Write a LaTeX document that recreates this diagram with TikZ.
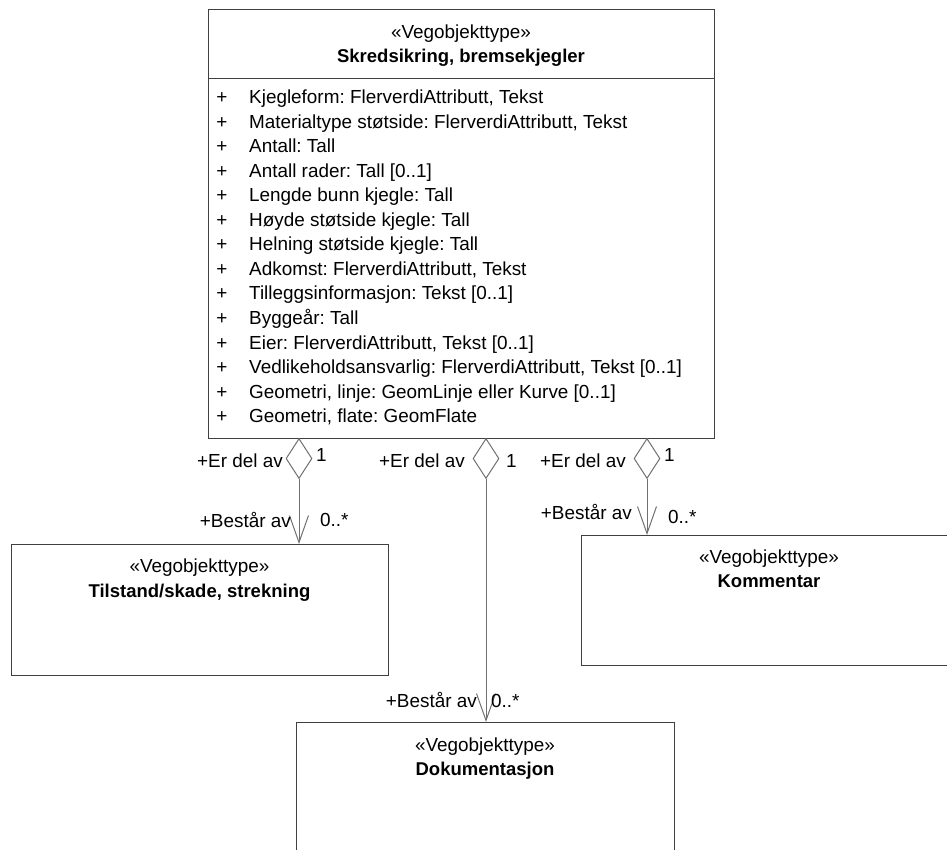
\documentclass[tikz,border=0pt]{standalone}
\usepackage{fontspec}
\setmainfont{Liberation Sans}
\usetikzlibrary{shapes.geometric,arrows.meta}
\definecolor{boxline}{HTML}{404040}
\definecolor{conline}{HTML}{707070}
\tikzset{
  classbox/.style={draw=boxline,line width=1pt,fill=white,rectangle,inner sep=0pt},
  txt/.style={inner sep=0pt,font=\fontsize{18.9}{22}\selectfont\frenchspacing,anchor=base},
  txtl/.style={txt,anchor=base west},
  txtb/.style={txt,font=\fontsize{18.5}{22}\selectfont\frenchspacing\bfseries},
  agg/.style={draw=conline,line width=1pt,fill=white,diamond,inner sep=0pt,minimum width=26pt,minimum height=40pt,shape aspect=0.65},
  conn/.style={draw=conline,line width=1pt,-{Straight Barb[length=27pt,width=19pt,line width=1pt]}},
}
\begin{document}
\begin{tikzpicture}[x=1pt,y=-1pt]
\useasboundingbox (0,0) rectangle (947,849);
% main class
\node[classbox,minimum width=506pt,minimum height=429pt,anchor=north west] (main) at (208,9) {};
\draw[boxline,line width=1pt] (main.west |- 0,78) coordinate (s1) -- (main.east |- 0,78) coordinate (s2);
\node[txt] (mst) at (461,38.5) {«Vegobjekttype»};
\node[txtb] (mnm) at (461,62.5) {Skredsikring, bremsekjegler};
\foreach \i/\t in {1/{Kjegleform: FlerverdiAttributt, Tekst},
  2/{Materialtype støtside: FlerverdiAttributt, Tekst},
  3/{Antall: Tall},
  4/{Antall rader: Tall [0..1]},
  5/{Lengde bunn kjegle: Tall},
  6/{Høyde støtside kjegle: Tall},
  7/{Helning støtside kjegle: Tall},
  8/{Adkomst: FlerverdiAttributt, Tekst},
  9/{Tilleggsinformasjon: Tekst [0..1]},
  10/{Byggeår: Tall},
  11/{Eier: FlerverdiAttributt, Tekst [0..1]},
  12/{Vedlikeholdsansvarlig: FlerverdiAttributt, Tekst [0..1]},
  13/{Geometri, linje: GeomLinje eller Kurve [0..1]},
  14/{Geometri, flate: GeomFlate}} {
  \node[txt] (p\i) at (222,{103.5+24.55*(\i-1)}) {+};
  \node[txtl] (a\i) at (249,{103.5+24.55*(\i-1)}) {\t};
}
% left class
\node[classbox,minimum width=377pt,minimum height=131pt,anchor=north west] (tilstand) at (11,544) {};
\node[txt] (tst) at (199.5,572.5) {«Vegobjekttype»};
\node[txtb] (tnm) at (199.5,597.5) {Tilstand/skade, strekning};
% right class
\node[classbox,minimum width=380pt,minimum height=130pt,anchor=north west] (komm) at (581,535) {};
\node[txt] (kst) at (769,563.5) {«Vegobjekttype»};
\node[txtb] (knm) at (769,587.5) {Kommentar};
% bottom class
\node[classbox,minimum width=378pt,minimum height=140pt,anchor=north west] (dok) at (296,722) {};
\node[txt] (dst) at (485,751.5) {«Vegobjekttype»};
\node[txtb] (dnm) at (485,775.5) {Dokumentasjon};
% diamonds
\node[agg,anchor=north] (d1) at (299,438) {};
\node[agg,anchor=north] (d2) at (486,438) {};
\node[agg,anchor=north] (d3) at (647,438) {};
% connectors
\draw[conn] (d1.south) -- (d1.south |- tilstand.north);
\draw[conn] (d2.south) -- (d2.south |- dok.north);
\draw[conn] (d3.south) -- (d3.south |- komm.north);
% labels left
\node[txt,anchor=base east] (l1a) at (283,467.5) {+Er del av};
\node[txtl] (l1b) at (316,461.5) {1};
\node[txt,anchor=base east] (l1c) at (291,527.5) {+Består av};
\node[txtl] (l1d) at (320,526.5) {0..*};
% labels middle
\node[txt,anchor=base east] (l2a) at (465,467.5) {+Er del av};
\node[txtl] (l2b) at (506,467.5) {1};
\node[txt,anchor=base east] (l2c) at (477,707.5) {+Består av};
\node[txtl] (l2d) at (491,707.5) {0..*};
% labels right
\node[txt,anchor=base east] (l3a) at (626,467.5) {+Er del av};
\node[txtl] (l3b) at (664,461.5) {1};
\node[txt,anchor=base east] (l3c) at (632,519.5) {+Består av};
\node[txtl] (l3d) at (668,523.5) {0..*};
\end{tikzpicture}
\end{document}
